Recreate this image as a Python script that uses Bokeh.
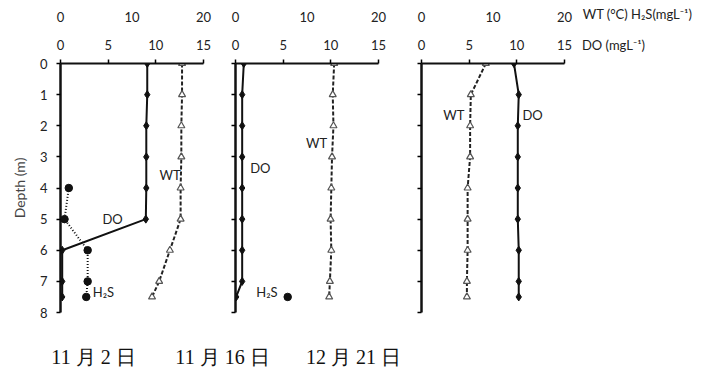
from bokeh.plotting import figure
from bokeh.models import Range1d, LinearAxis, FixedTicker, Label
from bokeh.layouts import row, column
from bokeh.embed import file_html
from bokeh.resources import INLINE
from bokeh.core.properties import value

# ---- data -------------------------------------------------------------
depth = [0, 1, 2, 3, 4, 5, 6, 7, 7.5]
depth_ticks = [0, 1, 2, 3, 4, 5, 6, 7, 8]
do_ticks = [0, 5, 10, 15]
wt_ticks = [0, 10, 20]

dates = ["11 月 2 日", "11 月 16 日", "12 月 21 日"]
unit_wt = "WT (°C) H₂S(mgL⁻¹)"
unit_do = "DO (mgL⁻¹)"

do_nov02 = [9.1, 9.1, 9.0, 9.0, 9.0, 8.95, 0.18, 0.18, 0.18]
wt_nov02 = [17.0, 17.0, 16.9, 16.9, 16.8, 16.8, 15.3, 13.8, 12.8]
h2s_depth_nov02 = [4, 5, 6, 7, 7.5]
h2s_nov02 = [1.16, 0.56, 3.8, 3.8, 3.6]

do_nov16 = [0.87, 0.7, 0.7, 0.7, 0.7, 0.7, 0.7, 0.7, 0.07]
wt_nov16 = [13.8, 13.6, 13.7, 13.5, 13.4, 13.3, 13.4, 13.2, 13.1]
h2s_depth_nov16 = [7.5]
h2s_nov16 = [7.3]

do_dec21 = [9.7, 10.2, 10.1, 10.1, 10.1, 10.1, 10.2, 10.2, 10.2]
wt_dec21 = [9.0, 6.9, 6.8, 6.8, 6.45, 6.45, 6.45, 6.35, 6.35]
h2s_depth_dec21 = []
h2s_dec21 = []

FONT = "Lato"
TOP_H = 324


def style_fig(p):
    p.outline_line_color = None
    p.xgrid.visible = False
    p.ygrid.visible = False
    p.background_fill_color = "white"
    p.border_fill_color = "white"


def do_axis(ticks, overrides=None, show=True, standoff=10):
    ax = LinearAxis(ticker=FixedTicker(ticks=ticks))
    ax.axis_line_width = 2
    ax.axis_line_color = "#111111" if show else None
    ax.major_tick_out = 4
    ax.major_tick_in = 0
    ax.major_tick_line_width = 1.5
    if not show:
        ax.major_tick_line_color = None
    ax.minor_tick_line_color = None
    ax.major_label_standoff = standoff
    ax.major_label_text_font = FONT
    ax.major_label_text_font_size = "13px"
    ax.major_label_text_color = "#222222"
    if overrides:
        ax.major_label_overrides = overrides
    return ax


def wt_axis(ticks, range_name=None, overrides=None, standoff=15):
    ax = LinearAxis(ticker=FixedTicker(ticks=ticks))
    if range_name:
        ax.x_range_name = range_name
    ax.axis_line_color = None
    ax.major_tick_line_color = None
    ax.major_tick_out = 0
    ax.major_tick_in = 0
    ax.minor_tick_line_color = None
    ax.major_label_standoff = standoff
    ax.major_label_text_font = FONT
    ax.major_label_text_font_size = "13px"
    ax.major_label_text_color = "#222222"
    if overrides:
        ax.major_label_overrides = overrides
    return ax


def make_panel(do, wt, hd, hv, labels, width, bl, br, first=False):
    p = figure(width=width, height=TOP_H, x_range=Range1d(0, 15), y_range=Range1d(8, 0),
               x_axis_location=None, y_axis_location=None, toolbar_location=None,
               output_backend="svg", min_border_left=bl, min_border_right=br,
               min_border_top=63, min_border_bottom=TOP_H - 63 - 249)
    p.extra_x_ranges = {"wt": Range1d(0, 20)}
    style_fig(p)

    p.add_layout(do_axis(do_ticks), "above")
    p.add_layout(wt_axis(wt_ticks, "wt"), "above")

    # depth axis
    ax_y = LinearAxis(ticker=FixedTicker(ticks=depth_ticks))
    ax_y.axis_line_width = 2.5
    ax_y.axis_line_color = "#111111"
    ax_y.major_tick_out = 4
    ax_y.major_tick_in = 0
    ax_y.major_tick_line_width = 1.5
    ax_y.minor_tick_line_color = None
    ax_y.major_label_text_font = FONT
    ax_y.major_label_text_font_size = "13px"
    ax_y.major_label_text_color = "#222222"
    ax_y.major_label_standoff = 9
    if first:
        ax_y.axis_label = "Depth (m)"
        ax_y.axis_label_text_font = FONT
        ax_y.axis_label_text_font_style = "normal"
        ax_y.axis_label_text_font_size = "14px"
        ax_y.axis_label_standoff = 9
    else:
        ax_y.major_label_overrides = {t: "" for t in depth_ticks}
    p.add_layout(ax_y, "left")

    # series
    p.line(wt, depth, x_range_name="wt", line_color="#222222", line_width=2, line_dash="4 2")
    p.scatter(wt, depth, x_range_name="wt", marker="triangle", size=7,
              line_color="#555555", fill_color="white", line_width=1.2)
    p.line(do, depth, line_color="#111111", line_width=2)
    p.scatter(do, depth, marker="diamond", size=8, line_color="#111111", fill_color="#111111")
    if hv:
        if len(hv) > 1:
            p.line(hv, hd, x_range_name="wt", line_color="#111111", line_width=2, line_dash="1 2")
        p.scatter(hv, hd, x_range_name="wt", marker="circle", size=7.5,
                  line_color="#111111", fill_color="#111111")

    for txt, lx, ly in labels:
        p.add_layout(Label(x=lx, y=ly, text=txt, text_font=FONT, text_font_size="13px",
                           text_color="#222222", text_align="center", text_baseline="middle"))
    return p


p1 = make_panel(do_nov02, wt_nov02, h2s_depth_nov02, h2s_nov02,
                [("DO", 5.46, 5.0), ("WT", 11.5, 3.58), ("H₂S", 4.5, 7.35)],
                219, 60, 16, first=True)
p2 = make_panel(do_nov16, wt_nov16, h2s_depth_nov16, h2s_nov16,
                [("WT", 8.5, 2.54), ("DO", 2.6, 3.35), ("H₂S", 3.3, 7.33)],
                180, 16, 21)
p3 = make_panel(do_dec21, wt_dec21, h2s_depth_dec21, h2s_dec21,
                [("WT", 3.4, 1.64), ("DO", 11.65, 1.64)],
                175, 22, 10)

# unit captions to the right of the third panel, set as axis labels in the same rows
pu = figure(width=138, height=TOP_H, x_range=Range1d(0, 138), y_range=Range1d(8, 0),
            x_axis_location=None, y_axis_location=None, toolbar_location=None,
            output_backend="svg", min_border_left=0, min_border_right=0,
            min_border_top=63, min_border_bottom=TOP_H - 63 - 249)
style_fig(pu)
pu.add_layout(do_axis([39], {39: unit_do}, show=False, standoff=7), "above")
pu.add_layout(wt_axis([63], None, {63: unit_wt}, standoff=12), "above")

# date captions under each panel
pd = figure(width=712, height=370 - TOP_H, x_range=Range1d(0, 712), y_range=Range1d(370 - TOP_H, 0),
            x_axis_location=None, y_axis_location=None, toolbar_location=None,
            output_backend="svg", min_border_left=0, min_border_right=0,
            min_border_top=0, min_border_bottom=0)
style_fig(pd)
pd.text(x=[93, 222, 353], y=[356 - TOP_H] * 3, text=dates,
        text_font=value("Liberation Serif"), text_font_size="20px",
        text_color="#111111", text_align="center", text_baseline="middle")

layout = column(row(p1, p2, p3, pu), pd)
open("out.html", "w").write(file_html(layout, INLINE))
